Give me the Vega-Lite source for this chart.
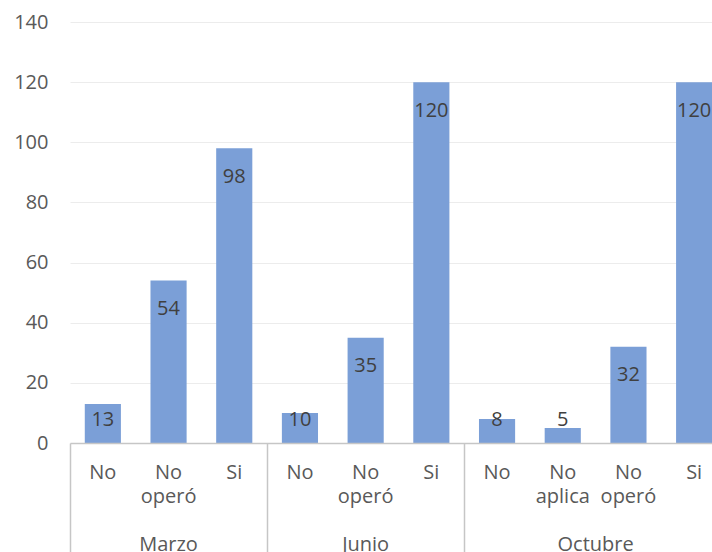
{
  "$schema": "https://vega.github.io/schema/vega-lite/v6.json",
  "autosize": "none",
  "width": 642,
  "height": 421,
  "padding": {"left": 70, "top": 22, "right": 0, "bottom": 109},
  "background": "white",
  "config": {
    "view": {"stroke": null},
    "font": "Open Sans",
    "axis": {"labelFont": "Open Sans", "labelFontSize": 20, "labelColor": "#595959"}
  },
  "data": {
    "values": [
      {"id": "Marzo|No", "mes": "Marzo", "cat": "No", "valor": 13},
      {"id": "Marzo|No operó", "mes": "Marzo", "cat": "No operó", "valor": 54},
      {"id": "Marzo|Si", "mes": "Marzo", "cat": "Si", "valor": 98},
      {"id": "Junio|No", "mes": "Junio", "cat": "No", "valor": 10},
      {"id": "Junio|No operó", "mes": "Junio", "cat": "No operó", "valor": 35},
      {"id": "Junio|Si", "mes": "Junio", "cat": "Si", "valor": 120},
      {"id": "Octubre|No", "mes": "Octubre", "cat": "No", "valor": 8},
      {"id": "Octubre|No aplica", "mes": "Octubre", "cat": "No aplica", "valor": 5},
      {"id": "Octubre|No operó", "mes": "Octubre", "cat": "No operó", "valor": 32},
      {"id": "Octubre|Si", "mes": "Octubre", "cat": "Si", "valor": 120}
    ]
  },
  "resolve": {"axis": {"x": "independent", "y": "shared"}},
  "layer": [
    {
      "mark": {"type": "bar", "color": "#7b9fd7"},
      "encoding": {
        "x": {
          "field": "id", "type": "nominal", "sort": null,
          "scale": {"range": [0, 657], "paddingInner": 0.45, "paddingOuter": 0.225},
          "axis": {
            "orient": "bottom",
            "title": null,
            "labelAngle": 0,
            "bandPosition": 0.5,
            "ticks": false,
            "domain": true,
            "domainColor": "#c6c6c6",
            "domainWidth": 1.5,
            "labelExpr": "split(split(datum.value, '|')[1], ' ')",
            "labelBaseline": "top",
            "labelPadding": 19,
            "labelLineHeight": 24,
            "labelOverlap": false,
            "zindex": 2
          }
        },
        "y": {
          "field": "valor", "type": "quantitative",
          "scale": {"domain": [0, 140], "nice": false},
          "axis": {
            "orient": "left",
            "title": null,
            "values": [0, 20, 40, 60, 80, 100, 120, 140],
            "grid": true,
            "domain": false,
            "ticks": false,
            "gridColor": "#ececec",
            "gridWidth": 1,
            "labelPadding": 22,
            "zindex": 0
          }
        }
      }
    },
    {
      "transform": [{"filter": "datum.valor >= 20"}],
      "mark": {"type": "text", "baseline": "alphabetic", "dy": 34.5, "fontSize": 20, "color": "#404040", "font": "Open Sans"},
      "encoding": {
        "x": {
          "field": "id", "type": "nominal", "sort": null,
          "axis": {
            "orient": "bottom",
            "title": null,
            "labelAngle": 0,
            "bandPosition": 0.5,
            "ticks": false,
            "domain": false,
            "labelExpr": "datum.value == 'Marzo|No operó' ? 'Marzo' : datum.value == 'Junio|No operó' ? 'Junio' : datum.value == 'Octubre|No operó' ? 'Octubre' : ''",
            "labelOffset": {"condition": {"test": "datum.value == 'Octubre|No operó'", "value": -32.85}, "value": 0},
            "labelBaseline": "top",
            "labelPadding": 91,
            "labelOverlap": false
          }
        },
        "y": {"field": "valor", "type": "quantitative"},
        "text": {"field": "valor", "type": "quantitative"}
      }
    },
    {
      "transform": [{"filter": "datum.valor < 20"}],
      "mark": {"type": "text", "baseline": "alphabetic", "fontSize": 20, "color": "#404040", "font": "Open Sans"},
      "encoding": {
        "x": {
          "field": "id", "type": "nominal", "sort": null,
          "axis": {
            "orient": "bottom",
            "title": null,
            "labels": false,
            "domain": false,
            "bandPosition": 0.5,
            "tickOffset": -32.85,
            "tickColor": "#c6c6c6",
            "tickWidth": 1.5,
            "tickSize": {"condition": {"test": "indexof(['Marzo|No', 'Junio|No', 'Octubre|No'], datum.value) >= 0", "value": 110}, "value": 0}
          }
        },
        "y": {"datum": 5.5, "type": "quantitative"},
        "text": {"field": "valor", "type": "quantitative"}
      }
    }
  ]
}
